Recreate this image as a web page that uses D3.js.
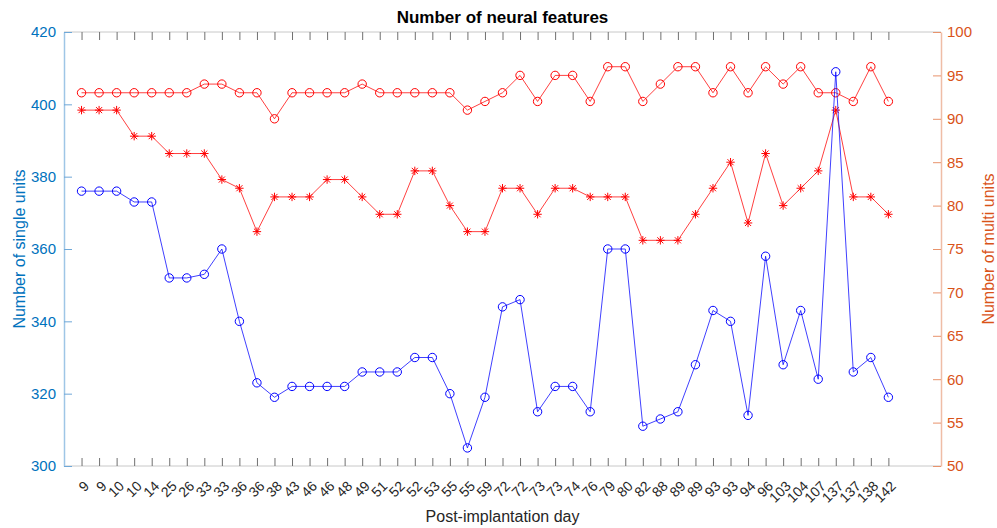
<!DOCTYPE html>
<html>
<head>
<meta charset="utf-8">
<script src="https://cdn.jsdelivr.net/npm/d3@7"></script>
<style>
  body { margin: 0; background: #fff; }
  text { font-family: "Liberation Sans", Arial, Helvetica, sans-serif; }
</style>
</head>
<body>
<svg id="chart"></svg>
<script>
// Post-implantation days (categorical x)
const days = [9, 9, 10, 10, 14, 25, 26, 33, 33, 36, 36, 38, 43, 46, 46, 48, 49, 51, 52, 52, 53, 55, 55, 59,
  72, 72, 73, 73, 74, 76, 79, 80, 82, 88, 89, 89, 93, 93, 94, 96, 103, 104, 107, 137, 137, 138, 142];

// left axis: single units
const singleUnits = [376, 376, 376, 373, 373, 352, 352, 353, 360, 340, 323, 319, 322, 322, 322, 322, 326, 326,
  326, 330, 330, 320, 305, 319, 344, 346, 315, 322, 322, 315, 360, 360, 311, 313, 315, 328, 343, 340, 314, 358,
  328, 343, 324, 409, 326, 330, 319];

// right axis: multi units (two series)
const multiCircle = [93, 93, 93, 93, 93, 93, 93, 94, 94, 93, 93, 90, 93, 93, 93, 93, 94, 93, 93, 93, 93, 93,
  91, 92, 93, 95, 92, 95, 95, 92, 96, 96, 92, 94, 96, 96, 93, 96, 93, 96, 94, 96, 93, 93, 92, 96, 92];
const multiStar = [91, 91, 91, 88, 88, 86, 86, 86, 83, 82, 77, 81, 81, 81, 83, 83, 81, 79, 79, 84, 84, 80, 77,
  77, 82, 82, 79, 82, 82, 81, 81, 81, 76, 76, 76, 79, 82, 85, 78, 86, 80, 82, 84, 91, 81, 81, 79];

const leftTicks = [300, 320, 340, 360, 380, 400, 420];
const rightTicks = [50, 55, 60, 65, 70, 75, 80, 85, 90, 95, 100];

const width = 997, height = 528;
const margin = { top: 32, right: 56, bottom: 62, left: 64 };
const leftColor = "#0072BD", rightColor = "#D95319";

const svg = d3.select("#chart").attr("width", width).attr("height", height);

const x = d3.scaleLinear().domain([0, 50]).range([margin.left, width - margin.right]);
const yL = d3.scaleLinear().domain([300, 420]).range([height - margin.bottom, margin.top]);
const yR = d3.scaleLinear().domain([50, 100]).range([height - margin.bottom, margin.top]);

const x0 = margin.left, x1 = width - margin.right;
const yTop = margin.top, yBot = height - margin.bottom;

// box top / bottom
svg.append("line").attr("x1", x0).attr("x2", x1).attr("y1", yTop).attr("y2", yTop)
  .attr("stroke", "#c8c8c8").attr("stroke-width", 1);
svg.append("line").attr("x1", x0).attr("x2", x1).attr("y1", yBot).attr("y2", yBot)
  .attr("stroke", "#c8c8c8").attr("stroke-width", 1);

// x ticks (bottom and top, pointing inward)
const idx = d3.range(1, days.length + 1);
const xAxisB = d3.axisBottom(x).tickValues(idx).tickSizeInner(-8).tickSizeOuter(0).tickFormat(i => days[i - 1]);
const gx = svg.append("g").attr("transform", `translate(0,${yBot})`).call(xAxisB);
gx.select(".domain").remove();
gx.selectAll(".tick line").attr("stroke", "#707070");
gx.selectAll(".tick text")
  .attr("fill", "#262626").attr("font-size", 14)
  .attr("text-anchor", "end")
  .attr("dy", null).attr("y", null)
  .attr("transform", "translate(8,21) rotate(-45)");

const xAxisT = d3.axisTop(x).tickValues(idx).tickSizeInner(-8).tickSizeOuter(0).tickFormat("");
const gxt = svg.append("g").attr("transform", `translate(0,${yTop})`).call(xAxisT);
gxt.select(".domain").remove();
gxt.selectAll(".tick line").attr("stroke", "#707070");

// left axis
const gl = svg.append("g").attr("transform", `translate(${x0},0)`)
  .call(d3.axisLeft(yL).tickValues(leftTicks).tickSizeInner(-8).tickSizeOuter(0).tickPadding(8));
gl.select(".domain").attr("stroke", "#9fc6e6").attr("stroke-width", 1.5);
gl.selectAll(".tick line").attr("stroke", "#6fa8d8");
gl.selectAll(".tick text").attr("fill", leftColor).attr("font-size", 15);

// right axis
const gr = svg.append("g").attr("transform", `translate(${x1},0)`)
  .call(d3.axisRight(yR).tickValues(rightTicks).tickSizeInner(-8).tickSizeOuter(0).tickPadding(6));
gr.select(".domain").attr("stroke", "#efbda6").attr("stroke-width", 1.5);
gr.selectAll(".tick line").attr("stroke", "#e8936c");
gr.selectAll(".tick text").attr("fill", rightColor).attr("font-size", 15);

// series
const plot = svg.append("g");

function drawLine(vals, yScale, color) {
  plot.append("path")
    .datum(vals)
    .attr("fill", "none")
    .attr("stroke", color)
    .attr("stroke-opacity", 0.75)
    .attr("stroke-width", 1)
    .attr("d", d3.line().x((d, i) => x(i + 1)).y(d => yScale(d)));
}

function drawCircles(vals, yScale, color) {
  plot.append("g").selectAll("circle")
    .data(vals)
    .join("circle")
    .attr("cx", (d, i) => x(i + 1))
    .attr("cy", d => yScale(d))
    .attr("r", 4.2)
    .attr("fill", "none")
    .attr("stroke", color)
    .attr("stroke-width", 1);
}

function drawStars(vals, yScale, color) {
  const s = 4.2, t = s * 0.72;
  plot.append("g").selectAll("path")
    .data(vals)
    .join("path")
    .attr("transform", (d, i) => `translate(${x(i + 1)},${yScale(d)})`)
    .attr("d", `M${-s},0H${s}M0,${-s}V${s}M${-t},${-t}L${t},${t}M${-t},${t}L${t},${-t}`)
    .attr("fill", "none")
    .attr("stroke", color)
    .attr("stroke-width", 1);
}

drawLine(multiCircle, yR, "#ff0000");
drawCircles(multiCircle, yR, "#ff0000");
drawLine(multiStar, yR, "#ff0000");
drawStars(multiStar, yR, "#ff0000");
drawLine(singleUnits, yL, "#0000ff");
drawCircles(singleUnits, yL, "#0000ff");

// title and labels
svg.append("text")
  .attr("x", (x0 + x1) / 2).attr("y", 23)
  .attr("text-anchor", "middle")
  .attr("font-size", 17).attr("font-weight", "bold").attr("fill", "#000")
  .text("Number of neural features");

svg.append("text")
  .attr("x", (x0 + x1) / 2).attr("y", 522)
  .attr("text-anchor", "middle")
  .attr("font-size", 16).attr("fill", "#262626")
  .text("Post-implantation day");

svg.append("text")
  .attr("transform", `translate(25,${(yTop + yBot) / 2}) rotate(-90)`)
  .attr("text-anchor", "middle")
  .attr("font-size", 16).attr("fill", leftColor)
  .text("Number of single units");

svg.append("text")
  .attr("transform", `translate(994,${(yTop + yBot) / 2}) rotate(-90)`)
  .attr("text-anchor", "middle")
  .attr("font-size", 16).attr("fill", rightColor)
  .text("Number of multi units");
</script>
</body>
</html>
